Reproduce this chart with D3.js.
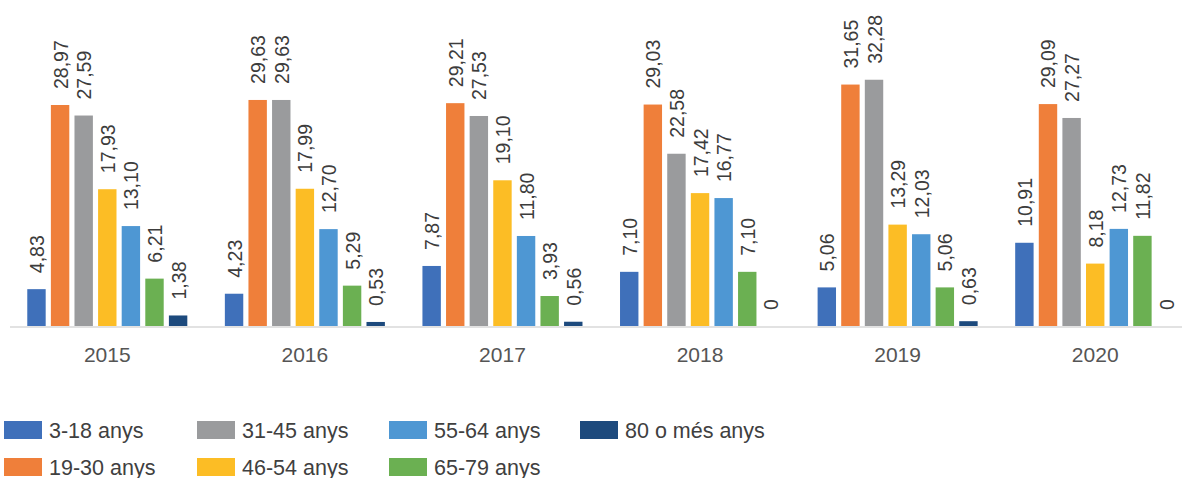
<!DOCTYPE html>
<html>
<head>
<meta charset="utf-8">
<script src="https://cdn.jsdelivr.net/npm/d3@7"></script>
<style>
  html, body { margin: 0; padding: 0; background: #ffffff; }
  svg { display: block; font-family: "Liberation Sans", Arial, Helvetica, sans-serif; }
</style>
</head>
<body>
<svg id="chart" width="1182" height="478"></svg>
<script>
// Years on the x axis
const years = ["2015", "2016", "2017", "2018", "2019", "2020"];

// Age groups (series)
const ageGroups = ["3-18 anys", "19-30 anys", "31-45 anys", "46-54 anys", "55-64 anys", "65-79 anys", "80 o més anys"];

// Percentage per age group, one value per year
const v3_18   = [4.83, 4.23, 7.87, 7.10, 5.06, 10.91];
const v19_30  = [28.97, 29.63, 29.21, 29.03, 31.65, 29.09];
const v31_45  = [27.59, 29.63, 27.53, 22.58, 32.28, 27.27];
const v46_54  = [17.93, 17.99, 19.10, 17.42, 13.29, 8.18];
const v55_64  = [13.10, 12.70, 11.80, 16.77, 12.03, 12.73];
const v65_79  = [6.21, 5.29, 3.93, 7.10, 5.06, 11.82];
const v80plus = [1.38, 0.53, 0.56, 0, 0.63, 0];

const seriesValues = [v3_18, v19_30, v31_45, v46_54, v55_64, v65_79, v80plus];
const colors = ["#3f70ba", "#ef7f3a", "#9a9b9d", "#fcbd25", "#4e97d3", "#6bb052", "#1d4a7d"];

const svg = d3.select("#chart");

const baseline = 326;
const y = d3.scaleLinear().domain([0, 35]).range([baseline, 59]);

const x0 = d3.scaleBand()
  .domain(years)
  .range([8.5, 1194])
  .paddingInner(0.19)
  .paddingOuter(0.095);

const x1 = d3.scaleBand()
  .domain(ageGroups)
  .range([0, x0.bandwidth()])
  .paddingInner(0.22)
  .paddingOuter(0);

const fmt = v => v === 0 ? "0" : d3.format(".2f")(v).replace(".", ",");

// Rows: one per (year, age group)
const rows = [];
years.forEach((yr, i) => {
  ageGroups.forEach((g, j) => {
    rows.push({ year: yr, group: g, value: seriesValues[j][i], color: colors[j] });
  });
});

// Axis baseline
svg.append("line")
  .attr("x1", 10).attr("x2", 1182)
  .attr("y1", baseline + 1).attr("y2", baseline + 1)
  .attr("stroke", "#d9d9d9").attr("stroke-width", 1.5);

// Bars
svg.append("g").selectAll("rect")
  .data(rows)
  .join("rect")
  .attr("x", d => x0(d.year) + x1(d.group))
  .attr("y", d => y(d.value))
  .attr("width", x1.bandwidth())
  .attr("height", d => baseline - y(d.value))
  .attr("fill", d => d.color);

// Value labels, rotated
svg.append("g").selectAll("text")
  .data(rows)
  .join("text")
  .attr("transform", d => {
    const cx = x0(d.year) + x1(d.group) + x1.bandwidth() / 2 + 7.5;
    const cy = y(d.value) - 16;
    return `translate(${cx},${cy}) rotate(-90)`;
  })
  .attr("text-anchor", "start")
  .attr("font-size", 19.5)
  .attr("fill", "#3c3c3c")
  .text(d => fmt(d.value));

// Year axis labels
const xAxis = d3.axisBottom(x0).tickSize(0).tickPadding(0);
const axisG = svg.append("g")
  .attr("transform", `translate(0, ${baseline + 36})`)
  .call(xAxis);
axisG.select(".domain").remove();
axisG.selectAll("text")
  .attr("font-size", 21)
  .attr("fill", "#555555")
  .attr("font-family", "\"Liberation Sans\", Arial, sans-serif")
  .attr("dy", "0")
  .attr("y", 0);

// Legend: column-major, two rows
const legendCols = [4, 197, 389, 580];
const legendRows = [421, 458];
const legend = svg.append("g").selectAll("g")
  .data(ageGroups)
  .join("g")
  .attr("transform", (d, i) => `translate(${legendCols[Math.floor(i / 2)]}, ${legendRows[i % 2]})`);
legend.append("rect")
  .attr("width", 38).attr("height", 18)
  .attr("fill", (d, i) => colors[i]);
legend.append("text")
  .attr("x", 45).attr("y", 16.5)
  .attr("font-size", 21.5)
  .attr("fill", "#404040")
  .text(d => d);
</script>
</body>
</html>
